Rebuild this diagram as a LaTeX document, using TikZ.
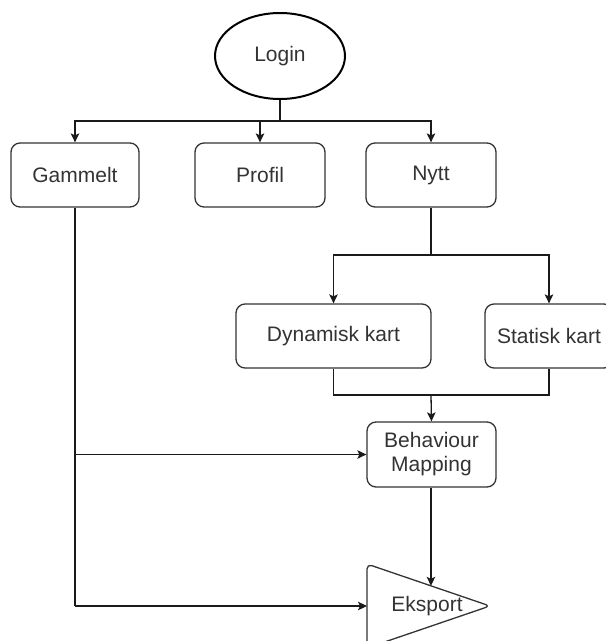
\documentclass[tikz,border=0pt]{standalone}
\usepackage{fontspec}
\setmainfont{Liberation Sans}
\usetikzlibrary{arrows.meta,calc,shapes.geometric}
\definecolor{ink}{HTML}{333333}
\definecolor{wire}{HTML}{1A1A1A}
\definecolor{txt}{HTML}{333333}
\tikzset{
  x=1pt, y=-1pt,
  every node/.style={font=\fontsize{21}{24}\selectfont, text=txt},
  stepbox/.style={draw=ink, line width=1.3pt, rounded corners=9pt,
    minimum height=64pt, inner sep=0pt, align=center},
  conn/.style={draw=wire, line width=1.3pt},
  arr/.style={conn, -{Stealth[length=9pt,width=8.5pt,inset=2pt]}},
}
\begin{document}
\begin{tikzpicture}
  \useasboundingbox (0,0) rectangle (606,641);

  % start
  \node[draw=black, line width=2pt, ellipse, minimum width=130pt,
        minimum height=86pt, inner sep=0pt] (login) at (280,56) {Login};

  % first level
  \node[stepbox, minimum width=128pt] (gammelt) at (75,175) {Gammelt};
  \node[stepbox, minimum width=130pt] (profil)  at (260,175) {Profil};
  \node[stepbox, minimum width=130pt] (nytt)    at (431,175) {Nytt};

  % map choice
  \node[stepbox, minimum width=195pt] (dyn)  at (333.5,336) {Dynamisk kart};
  \node[stepbox, minimum width=128pt] (stat) at (549,336) {Statisk kart};

  \node[stepbox, minimum width=129pt, minimum height=65pt] (beh) at (431.5,454.5)
    {Behaviour\\Mapping};

  % export shape
  \coordinate (etl) at (367,564);
  \coordinate (eap) at (490,606);
  \coordinate (ebl) at (367,648);
  \draw[draw=ink, line width=1.3pt, rounded corners=5pt]
    (etl) -- (eap) -- (ebl) -- cycle;
  \node (eks) at (427,606) {Eksport};
  \coordinate (ekstop) at ($(etl)!0.52!(eap)$);
  \coordinate (eksleft) at (367,606);

  % junctions
  \coordinate (split) at (280,121);
  \coordinate (msplit) at (431,255);
  \coordinate (merge) at (431,395);
  \coordinate (gb) at (75,454.5);
  \coordinate (ge) at (75,606);

  % login fan-out
  \draw[conn] (login.south) -- (split);
  \draw[arr] (split) -| (gammelt.north);
  \draw[arr] (split) -| (profil.north);
  \draw[arr] (split) -| (nytt.north);

  % new session
  \draw[conn] (nytt.south) -- (msplit);
  \draw[arr] (msplit) -| (dyn.north);
  \draw[arr] (msplit) -| (stat.north);
  \draw[conn] (dyn.south) |- (merge);
  \draw[conn] (stat.south) |- (merge);
  \draw[arr] (merge) -- (beh.north);

  % old session
  \draw[conn] (gammelt.south) -- (ge);
  \draw[arr] (gb) -- (beh.west);
  \draw[arr] (ge) -- (eksleft);

  % export
  \draw[arr] (beh.south -| ekstop) -- (ekstop);
\end{tikzpicture}
\end{document}
